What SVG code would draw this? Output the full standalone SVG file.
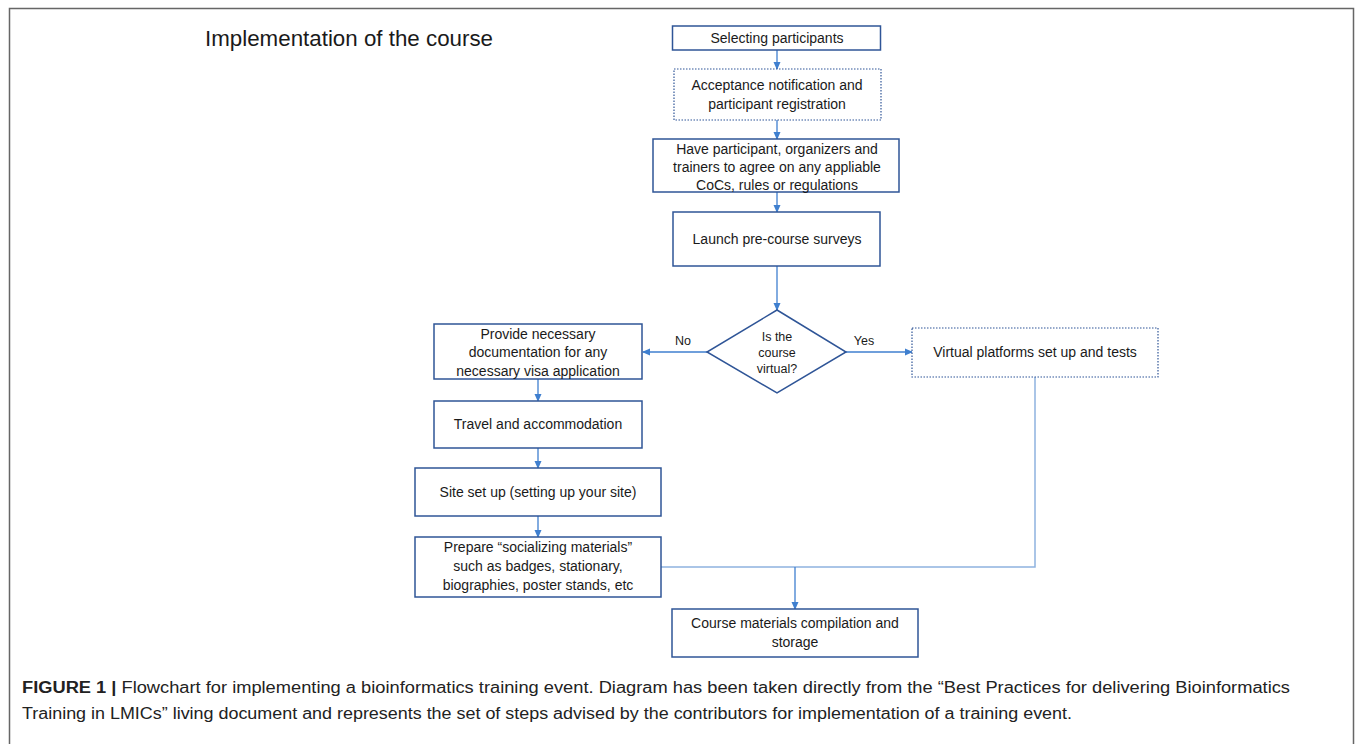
<svg xmlns="http://www.w3.org/2000/svg" width="1355" height="744" viewBox="0 0 1355 744">
<style>
.box{fill:#fff;stroke:#2f5597;stroke-width:1.5}
.dot{fill:#fff;stroke:#2f5597;stroke-width:1.2;stroke-dasharray:1.5 1.5}
.t{font-family:"Liberation Sans",Arial,sans-serif;font-size:14px;fill:#1a1a1a;text-anchor:middle}
.lbl{font-family:"Liberation Sans",Arial,sans-serif;font-size:12.5px;fill:#1a1a1a;text-anchor:middle}
.c{fill:none;stroke:#3f7fcf;stroke-width:1.3}
.cl{fill:none;stroke:#8fb3e0;stroke-width:1.5}
.cap{font-family:"Liberation Sans Narrow","Liberation Sans",Arial,sans-serif;font-size:16px;fill:#222}
</style>
<defs>
<marker id="ah" markerWidth="8" markerHeight="8" refX="7" refY="4" orient="auto" markerUnits="userSpaceOnUse">
<path d="M0,0.5 L8,4 L0,7.5 Z" fill="#3f7fcf"/>
</marker>
</defs>
<rect x="0" y="0" width="1355" height="744" fill="#fff"/>
<path d="M9.5,744 L9.5,8.5 L1353.5,8.5 L1353.5,744" fill="none" stroke="#666" stroke-width="1.5"/>
<text x="205" y="46" font-family="Liberation Sans,Arial,sans-serif" font-size="22" fill="#1a1a1a" textLength="288" lengthAdjust="spacingAndGlyphs">Implementation of the course</text>

<g id="connectors">
<line class="c" x1="777" y1="50" x2="777" y2="69" marker-end="url(#ah)"/>
<line class="c" x1="777" y1="120" x2="777" y2="139" marker-end="url(#ah)"/>
<line class="c" x1="777" y1="192" x2="777" y2="212" marker-end="url(#ah)"/>
<line class="c" x1="777" y1="266" x2="777" y2="310" marker-end="url(#ah)"/>
<line class="c" x1="707" y1="352" x2="643" y2="352" marker-end="url(#ah)"/>
<line class="c" x1="846" y1="352" x2="912" y2="352" marker-end="url(#ah)"/>
<line class="c" x1="538" y1="379" x2="538" y2="401" marker-end="url(#ah)"/>
<line class="c" x1="538" y1="448" x2="538" y2="468" marker-end="url(#ah)"/>
<line class="c" x1="538" y1="516" x2="538" y2="537" marker-end="url(#ah)"/>
<polyline class="cl" points="661,567 1035,567 1035,377"/>
<line class="c" x1="795" y1="567" x2="795" y2="609" marker-end="url(#ah)"/>
<text class="lbl" x="683" y="345">No</text>
<text class="lbl" x="864" y="345">Yes</text>
</g>

<g id="n1"><rect class="box" x="672.5" y="26" width="208" height="24"/><text class="t" x="777" y="43">Selecting participants</text></g>
<g id="n2"><rect class="dot" x="674" y="69" width="207" height="51"/><text class="t" x="777" y="90">Acceptance notification and</text><text class="t" x="777" y="109">participant registration</text></g>
<g id="n3"><rect class="box" x="653" y="139" width="246" height="53"/><text class="t" x="777" y="154">Have participant, organizers and</text><text class="t" x="777" y="172">trainers to agree on any appliable</text><text class="t" x="777" y="190">CoCs, rules or regulations</text></g>
<g id="n4"><rect class="box" x="673" y="212" width="207" height="54"/><text class="t" x="777" y="244">Launch pre-course surveys</text></g>
<g id="n5"><polygon class="box" points="777,310 846,352 777,393 707,352"/><text class="lbl" x="777" y="341">Is the</text><text class="lbl" x="777" y="357">course</text><text class="lbl" x="777" y="373">virtual?</text></g>
<g id="n6"><rect class="box" x="434" y="324" width="208" height="55"/><text class="t" x="538" y="339">Provide necessary</text><text class="t" x="538" y="357">documentation for any</text><text class="t" x="538" y="376">necessary visa application</text></g>
<g id="n7"><rect class="dot" x="912" y="328" width="246" height="49"/><text class="t" x="1035" y="357">Virtual platforms set up and tests</text></g>
<g id="n8"><rect class="box" x="434" y="401" width="208" height="47"/><text class="t" x="538" y="429">Travel and accommodation</text></g>
<g id="n9"><rect class="box" x="415" y="468" width="246" height="48"/><text class="t" x="538" y="497">Site set up (setting up your site)</text></g>
<g id="n10"><rect class="box" x="415" y="537" width="246" height="60"/><text class="t" x="538" y="552">Prepare “socializing materials”</text><text class="t" x="538" y="571">such as badges, stationary,</text><text class="t" x="538" y="590">biographies, poster stands, etc</text></g>
<g id="n11"><rect class="box" x="672" y="609" width="246" height="48"/><text class="t" x="795" y="628">Course materials compilation and</text><text class="t" x="795" y="647">storage</text></g>

<text class="cap" x="22" y="693" textLength="1268" lengthAdjust="spacingAndGlyphs"><tspan font-weight="bold">FIGURE 1 |</tspan> Flowchart for implementing a bioinformatics training event. Diagram has been taken directly from the “Best Practices for delivering Bioinformatics</text>
<text class="cap" x="22" y="719" textLength="1050" lengthAdjust="spacingAndGlyphs">Training in LMICs” living document and represents the set of steps advised by the contributors for implementation of a training event.</text>
</svg>
